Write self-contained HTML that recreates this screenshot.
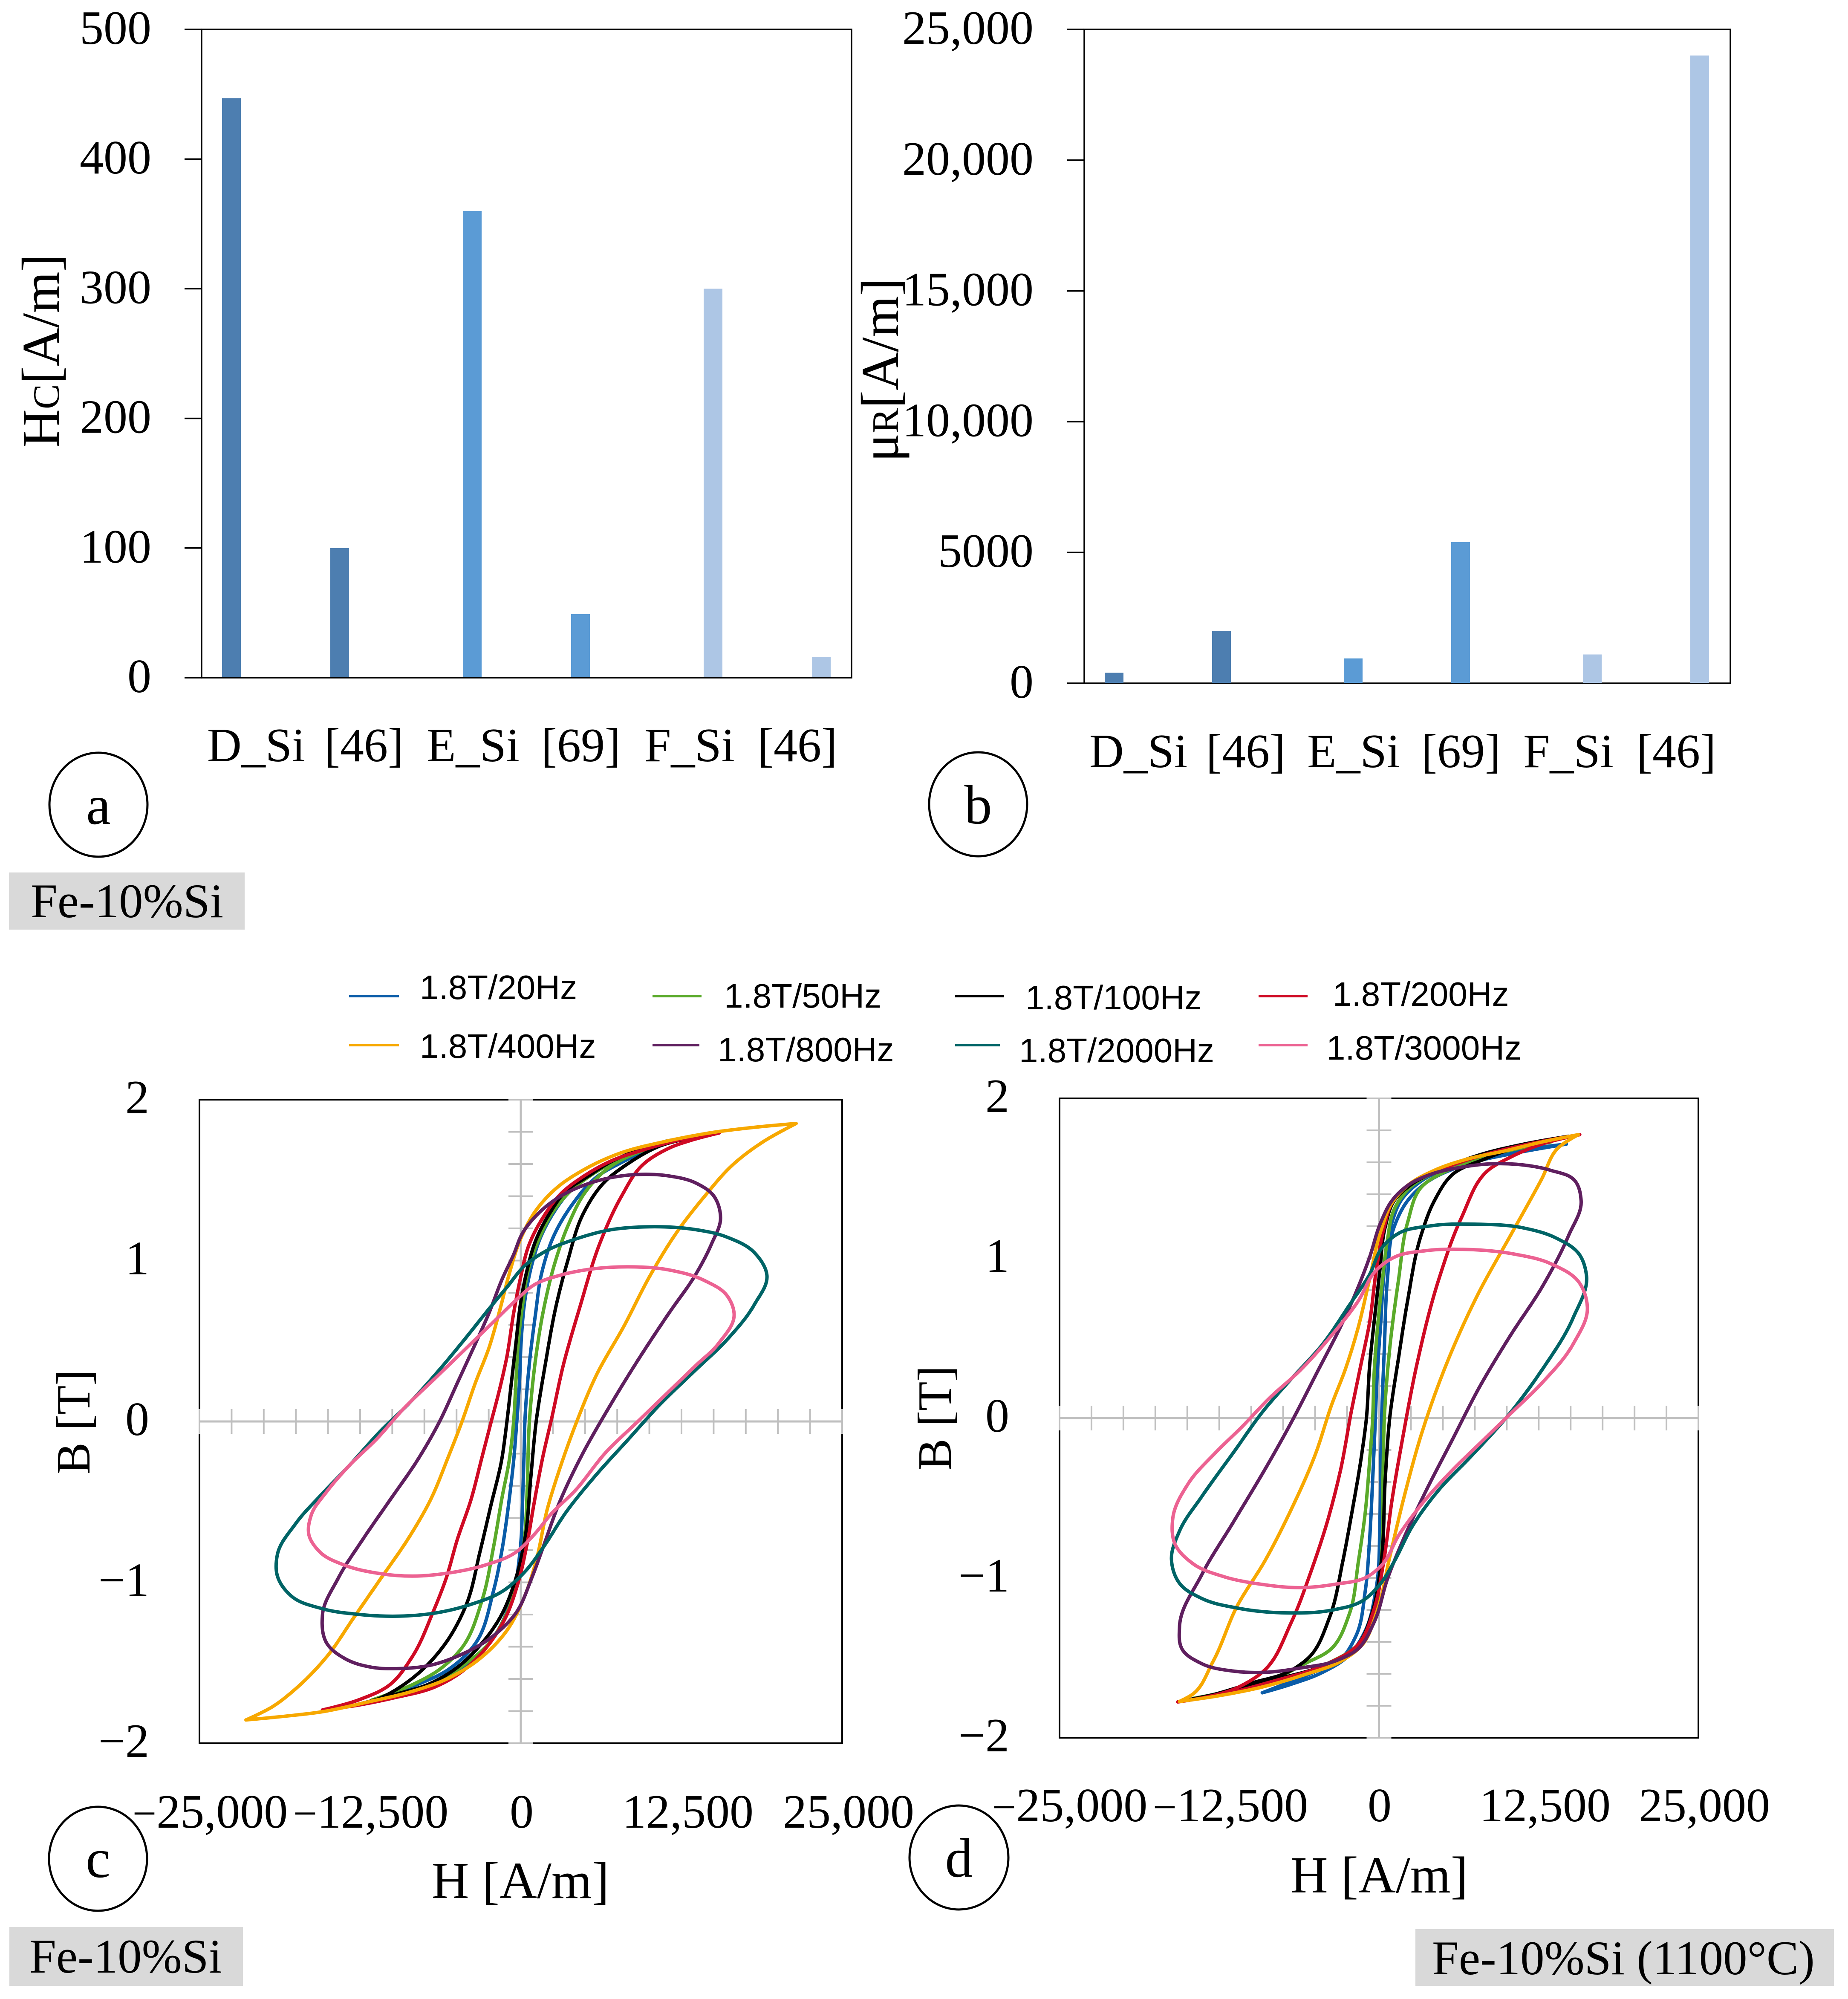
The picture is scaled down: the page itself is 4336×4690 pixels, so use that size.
<!DOCTYPE html>
<html lang="en">
<head>
<meta charset="utf-8">
<title>Fe-10%Si magnetic properties</title>
<style>
html,body{margin:0;padding:0;background:#fff}
svg{display:block}
text{font-family:"Liberation Serif","DejaVu Serif",serif;fill:#000;font-size:112px}
.leg{font-family:"Liberation Sans","DejaVu Sans",sans-serif;font-size:80px}
.ttl{font-size:125px}
.ttlh{font-size:122px}
.tag{font-size:113px}
</style>
</head>
<body>
<svg id="fig" xmlns="http://www.w3.org/2000/svg" width="4336" height="4690" viewBox="0 0 4336 4690">
<rect x="0" y="0" width="4336" height="4690" fill="#fff"/>

<g id="panelA"></g>
<g id="panelB"></g>
<g id="panelC"></g>
<g id="panelD"></g>

<text class="ttl" transform="translate(138 823) rotate(-90)" text-anchor="middle">H<tspan style="font-size:88px">C</tspan>[A/m]</text>
<text class="ttl" transform="translate(2107 868) rotate(-90)" text-anchor="middle">μ<tspan style="font-size:88px">R</tspan>[A/m]</text>
<text transform="translate(210 3336) rotate(-90)" text-anchor="middle">B [T]</text>
<text transform="translate(2231 3327) rotate(-90)" text-anchor="middle">B [T]</text>
<text class="ttlh" x="1221" y="4453" text-anchor="middle">H [A/m]</text>
<text class="ttlh" x="3236" y="4440" text-anchor="middle">H [A/m]</text>

<g text-anchor="middle">
<text x="493" y="4288"><tspan style="font-size:100px">−</tspan>25,000</text>
<text x="870" y="4288"><tspan style="font-size:100px">−</tspan>12,500</text>
<text x="1224" y="4288">0</text>
<text x="1614" y="4288">12,500</text>
<text x="1991" y="4288">25,000</text>
</g>
<g text-anchor="middle">
<text x="2510" y="4273"><tspan style="font-size:100px">−</tspan>25,000</text>
<text x="2887" y="4273"><tspan style="font-size:100px">−</tspan>12,500</text>
<text x="3237" y="4273">0</text>
<text x="3625" y="4273">12,500</text>
<text x="3999" y="4273">25,000</text>
</g>

<g><ellipse cx="231" cy="1888" rx="115" ry="122" fill="#fff" stroke="#000" stroke-width="5"/><text x="231" y="1933" text-anchor="middle" style="font-size:130px">a</text></g>
<g><ellipse cx="2295" cy="1887" rx="115" ry="122" fill="#fff" stroke="#000" stroke-width="5"/><text x="2295" y="1932" text-anchor="middle" style="font-size:130px">b</text></g>
<g><ellipse cx="230" cy="4361" rx="115" ry="122" fill="#fff" stroke="#000" stroke-width="5"/><text x="230" y="4404" text-anchor="middle" style="font-size:130px">c</text></g>
<g><ellipse cx="2250" cy="4358" rx="116" ry="122" fill="#fff" stroke="#000" stroke-width="5"/><text x="2250" y="4403" text-anchor="middle" style="font-size:130px">d</text></g>

<g><rect x="21" y="2047" width="553" height="134" fill="#d9d9d9"/><text class="tag" x="72" y="2152">Fe-10%Si</text></g>
<g><rect x="22" y="4521" width="548" height="138" fill="#d9d9d9"/><text class="tag" x="69" y="4628">Fe-10%Si</text></g>
<g><rect x="3321" y="4526" width="982" height="133" fill="#d9d9d9"/><text class="tag" x="3360" y="4632">Fe-10%Si (1100°C)</text></g>

<g>
<g><rect x="819" y="2334" width="117" height="6" fill="#0a5ca8"/><text class="leg" x="985" y="2344">1.8T/20Hz</text></g>
<g><rect x="1531" y="2334" width="115" height="6" fill="#5aaa2a"/><text class="leg" x="1699" y="2364">1.8T/50Hz</text></g>
<g><rect x="2241" y="2334" width="115" height="6" fill="#000"/><text class="leg" x="2406" y="2368">1.8T/100Hz</text></g>
<g><rect x="2953" y="2334" width="115" height="6" fill="#cf0a24"/><text class="leg" x="3127" y="2360">1.8T/200Hz</text></g>
<g><rect x="819" y="2449" width="117" height="6" fill="#f7a800"/><text class="leg" x="985" y="2482">1.8T/400Hz</text></g>
<g><rect x="1531" y="2449" width="110" height="6" fill="#5f1f5f"/><text class="leg" x="1684" y="2490">1.8T/800Hz</text></g>
<g><rect x="2241" y="2449" width="105" height="6" fill="#006466"/><text class="leg" x="2391" y="2492">1.8T/2000Hz</text></g>
<g><rect x="2953" y="2449" width="115" height="6" fill="#ec6292"/><text class="leg" x="3112" y="2486">1.8T/3000Hz</text></g>
</g>
</svg>

<script>
const barCategories=['D_Si','[46]','E_Si','[69]','F_Si','[46]'];
const hcValues=[447,100,360,49,300,16];
const murValues=[400,2000,950,5400,1100,24000];
const hcTickValues=[0,100,200,300,400,500];
const hcTickLabels=['0','100','200','300','400','500'];
const murTickValues=[0,5000,10000,15000,20000,25000];
const murTickLabels=['0','5000','10,000','15,000','20,000','25,000'];
const bTickValues=[-2,-1,0,1,2];
const bTickLabels=['−2','−1','0','1','2'];

const cH20=[11165,9065,6965,5215,3640,2415,1540,840,315,35,-105,-315,-560,-910,-1435,-2135,-3535,-5635,-8085,-10885,-8085,-5635,-3535,-1785,-560,-35,140,245,315,650,1150,1600,2590,3990,5740,8015];
const cB20=[1.725,1.671,1.604,1.523,1.415,1.280,1.145,0.969,0.753,0.510,0.240,-0.003,-0.246,-0.489,-0.786,-1.056,-1.380,-1.542,-1.636,-1.717,-1.663,-1.590,-1.474,-1.299,-1.056,-0.786,-0.489,-0.219,-0.003,0.348,0.672,0.915,1.158,1.347,1.509,1.617];
const cH50=[11865,9765,7665,5565,3815,2415,1540,665,140,-210,-385,-560,-910,-1435,-2135,-3010,-4585,-6335,-8435,-11585,-8785,-6335,-4235,-2485,-1085,-210,315,490,665,1085,1715,2590,3640,5040,6615,9065];
const cB50=[1.739,1.704,1.631,1.536,1.428,1.293,1.158,0.969,0.726,0.483,0.240,-0.003,-0.246,-0.462,-0.786,-1.110,-1.407,-1.542,-1.636,-1.731,-1.677,-1.609,-1.501,-1.380,-1.191,-0.975,-0.705,-0.435,-0.003,0.348,0.672,0.969,1.212,1.428,1.563,1.671];
const cH100=[13965,11165,9065,6965,5215,3465,2240,1190,490,-35,-385,-735,-1085,-1505,-2310,-3185,-4235,-5985,-8435,-11585,-13335,-9835,-7035,-4935,-3185,-1610,-385,315,770,1190,1890,2765,3640,4865,6440,8365,10815];
const cB100=[1.774,1.739,1.685,1.612,1.523,1.428,1.293,1.131,0.942,0.726,0.483,0.240,-0.003,-0.246,-0.516,-0.813,-1.137,-1.393,-1.596,-1.739,-1.771,-1.698,-1.628,-1.528,-1.393,-1.218,-0.975,-0.732,-0.354,-0.003,0.348,0.726,0.996,1.293,1.482,1.604,1.712];
const cH200=[15435,12215,9415,6965,4865,3115,1715,665,-35,-560,-1085,-1610,-2310,-3010,-3885,-4935,-5810,-6860,-8435,-10185,-12635,-15435,-12635,-9835,-6685,-4585,-2835,-1260,-210,490,1015,1715,2415,3300,4550,6265,7840,9415,11515,13440];
const cB200=[1.793,1.747,1.685,1.617,1.523,1.415,1.266,1.104,0.888,0.672,0.402,0.213,-0.003,-0.219,-0.489,-0.732,-0.975,-1.191,-1.461,-1.636,-1.731,-1.793,-1.763,-1.717,-1.650,-1.555,-1.420,-1.231,-1.002,-0.759,-0.516,-0.219,0.024,0.348,0.699,1.131,1.401,1.590,1.698,1.752];
const cH400=[21420,18165,14665,11165,7665,4865,2765,1015,-35,-910,-1610,-2485,-3535,-4585,-5635,-7035,-8785,-10885,-12985,-15085,-17535,-19285,-21385,-18235,-15435,-11935,-8435,-5635,-3185,-1085,315,1190,2065,3115,4340,5915,8015,10115,12215,14315,16415,18865];
const cB400=[1.852,1.828,1.793,1.739,1.666,1.563,1.450,1.293,1.131,0.915,0.699,0.456,0.240,-0.003,-0.219,-0.489,-0.732,-0.975,-1.218,-1.461,-1.663,-1.771,-1.855,-1.831,-1.804,-1.744,-1.677,-1.596,-1.474,-1.299,-1.083,-0.867,-0.543,-0.273,-0.003,0.294,0.591,0.915,1.185,1.401,1.590,1.739];
const cH800=[15540,15015,13615,11515,9415,7315,5215,3115,1365,140,-560,-1435,-2485,-3535,-4935,-6335,-8085,-10185,-12285,-14210,-15435,-15085,-13685,-11585,-9485,-7035,-4585,-2485,-385,840,1715,2940,4865,6790,9065,11515,13615,14840];
const cB800=[1.266,1.401,1.482,1.526,1.536,1.520,1.477,1.401,1.293,1.172,1.037,0.888,0.672,0.483,0.240,-0.003,-0.246,-0.489,-0.732,-0.975,-1.204,-1.380,-1.474,-1.528,-1.536,-1.515,-1.447,-1.353,-1.191,-0.975,-0.786,-0.516,-0.192,0.078,0.375,0.672,0.915,1.104];
const cH2000=[19145,18165,16065,13265,10115,6965,4165,2065,315,-1085,-2485,-4235,-6335,-8785,-10885,-13335,-15435,-17535,-18935,-18935,-17885,-15435,-12635,-9485,-6685,-3885,-1435,315,1715,3465,5915,8365,10815,13615,16065,18165];
const cB2000=[0.910,1.050,1.145,1.196,1.210,1.191,1.131,1.064,0.969,0.834,0.699,0.524,0.321,0.105,-0.057,-0.273,-0.448,-0.637,-0.826,-0.961,-1.083,-1.164,-1.199,-1.210,-1.191,-1.137,-1.056,-0.934,-0.786,-0.570,-0.327,-0.111,0.105,0.321,0.510,0.726];
const cH3000=[16590,16065,14315,11515,8365,5565,3115,1015,-385,-2135,-4235,-6685,-9135,-11235,-13335,-15085,-16310,-16485,-15610,-13685,-11235,-8435,-5635,-2835,-385,1015,2415,4165,6615,9065,11515,13615,15365];
const cB3000=[0.672,0.780,0.875,0.942,0.961,0.948,0.910,0.848,0.753,0.618,0.456,0.267,0.078,-0.111,-0.273,-0.435,-0.583,-0.705,-0.813,-0.894,-0.942,-0.961,-0.942,-0.894,-0.813,-0.705,-0.570,-0.435,-0.192,-0.003,0.186,0.348,0.483];

const dH20=[14665,11690,8190,5390,3290,1715,1015,420,140,-140,-280,-490,-735,-1085,-1785,-3010,-5110,-7210,-9135,-6860,-4410,-2310,-1085,-210,70,140,210,420,665,1190,2240,3640,6440,9940];
const dB20=[1.714,1.673,1.618,1.564,1.482,1.360,1.224,0.925,0.598,0.272,0,-0.381,-0.762,-1.088,-1.360,-1.510,-1.591,-1.659,-1.719,-1.665,-1.591,-1.482,-1.333,-1.061,-0.653,-0.272,0,0.435,0.870,1.197,1.360,1.469,1.578,1.659];
const dH50=[13440,9940,6790,4340,2240,1190,665,245,-140,-385,-490,-735,-1085,-1610,-2310,-3710,-5810,-8610,-11760,-14560,-11060,-7560,-4060,-1610,-385,140,315,420,840,1540,2240,3290,5390,8190];
const dB50=[1.727,1.673,1.605,1.537,1.428,1.306,1.115,0.843,0.544,0.272,0,-0.272,-0.598,-0.898,-1.224,-1.442,-1.537,-1.646,-1.714,-1.754,-1.700,-1.632,-1.537,-1.414,-1.224,-0.925,-0.381,0,0.435,0.870,1.224,1.442,1.550,1.632];
const dH100=[14840,11340,7840,4690,2415,1190,490,70,-385,-735,-980,-1435,-2135,-2835,-3885,-5460,-6860,-10010,-12810,-15260,-11760,-7910,-4410,-1610,-560,140,490,840,1540,2240,3290,4340,5740,8190,11690];
const dB100=[1.763,1.714,1.646,1.550,1.455,1.360,1.197,0.925,0.598,0.326,0,-0.272,-0.598,-0.898,-1.251,-1.496,-1.578,-1.659,-1.727,-1.768,-1.714,-1.632,-1.550,-1.414,-1.224,-0.925,-0.381,0,0.381,0.734,1.142,1.360,1.523,1.618,1.714];
const dH200=[15715,11690,8190,4690,2240,1015,420,-210,-735,-1435,-2135,-3010,-4060,-5285,-6860,-8960,-11060,-15750,-12110,-8260,-4410,-1610,-385,315,1015,1890,2940,4690,6440,8540,10290,12740];
const dB200=[1.773,1.714,1.646,1.550,1.455,1.346,1.197,0.925,0.598,0.326,0.054,-0.326,-0.653,-0.952,-1.278,-1.578,-1.686,-1.776,-1.727,-1.646,-1.550,-1.414,-1.197,-0.925,-0.517,-0.109,0.326,0.870,1.251,1.550,1.632,1.714];
const dH400=[15610,12740,9940,6790,4340,2240,1015,140,-735,-1610,-2660,-3710,-4935,-6860,-8960,-11060,-12985,-14560,-15610,-12810,-9310,-5810,-3010,-1260,-210,840,1890,3290,5500,7840,10290,12740,13965];
const dB400=[1.773,1.727,1.673,1.618,1.550,1.455,1.346,1.170,0.870,0.571,0.299,0.082,-0.218,-0.571,-0.898,-1.170,-1.523,-1.727,-1.773,-1.741,-1.686,-1.605,-1.523,-1.414,-1.224,-0.870,-0.517,-0.109,0.381,0.789,1.142,1.496,1.686];
const dH800=[15820,15365,13440,11340,8890,6440,3990,2240,1015,140,-735,-1785,-3010,-4760,-6860,-8960,-11410,-13860,-15610,-15435,-13860,-11410,-8960,-6160,-3360,-1610,-385,665,1890,3640,5740,7840,10290,12740,14840];
const dB800=[1.360,1.482,1.550,1.583,1.591,1.569,1.523,1.455,1.360,1.224,1.006,0.789,0.571,0.299,-0.027,-0.326,-0.653,-0.979,-1.306,-1.442,-1.537,-1.583,-1.591,-1.564,-1.518,-1.442,-1.278,-1.006,-0.762,-0.462,-0.136,0.190,0.517,0.816,1.142];
const dH2000=[16240,15715,13790,11340,7490,3990,1540,315,-735,-2310,-4410,-6860,-8960,-11410,-13860,-15610,-16240,-15610,-13860,-11060,-7210,-3710,-1260,140,1190,2590,4690,7140,9940,12740,15190];
const dB2000=[0.892,1.020,1.129,1.189,1.213,1.202,1.156,1.074,0.898,0.707,0.462,0.245,0.054,-0.218,-0.490,-0.707,-0.884,-1.034,-1.129,-1.189,-1.219,-1.202,-1.142,-1.034,-0.898,-0.680,-0.449,-0.245,0,0.299,0.626];
const dH3000=[16310,15715,13440,10640,6790,3640,1190,-210,-1610,-3710,-6160,-8610,-10710,-12810,-14910,-16135,-15960,-14560,-12110,-9310,-6160,-3360,-910,315,1540,3290,5740,8190,10290,12740,15190];
const dB3000=[0.694,0.843,0.966,1.025,1.055,1.047,1.006,0.925,0.734,0.517,0.299,0.122,-0.054,-0.218,-0.408,-0.626,-0.789,-0.911,-0.993,-1.039,-1.061,-1.039,-0.993,-0.911,-0.734,-0.544,-0.326,-0.136,0.027,0.218,0.462];

const seriesNames=['20hz','50hz','100hz','200hz','400hz','800hz','2000hz','3000hz'];
const seriesColors=['#0a5ca8','#5aaa2a','#000000','#cf0a24','#f7a800','#5f1f5f','#006466','#ec6292'];
const panelCH=[cH20,cH50,cH100,cH200,cH400,cH800,cH2000,cH3000];
const panelCB=[cB20,cB50,cB100,cB200,cB400,cB800,cB2000,cB3000];
const panelDH=[dH20,dH50,dH100,dH200,dH400,dH800,dH2000,dH3000];
const panelDB=[dB20,dB50,dB100,dB200,dB400,dB800,dB2000,dB3000];

const NS='http://www.w3.org/2000/svg';
function mk(parent,tag,attrs){
  const el=document.createElementNS(NS,tag);
  for(const k in attrs){el.setAttribute(k,attrs[k]);}
  parent.appendChild(el);
  return el;
}
function linear(d0,d1,r0,r1){return v=>r0+(v-d0)*(r1-r0)/(d1-d0);}

function drawBarPanel(g,box,values,maxV,tickValues,tickLabels,pairGap,groupGap,catCenters,catBaseline,labelRight,keyPrefix){
  const y=linear(0,maxV,box.bottom,box.top);
  const frame=mk(g,'rect',{x:box.left,y:box.top,width:box.right-box.left,height:box.bottom-box.top,fill:'none',stroke:'#000','stroke-width':3.5});
  
  
  tickValues.forEach((v,i)=>{
    const t=mk(g,'line',{x1:box.left-40,x2:box.left,y1:y(v),y2:y(v),stroke:'#000','stroke-width':3.5});
    
    
    const l=mk(g,'text',{x:labelRight,y:y(v)+34,'text-anchor':'end'});
    
    
    l.textContent=tickLabels[i];
  });
  const colors=['#4d7eb0','#5b9bd5','#adc6e5'];
  values.forEach((v,i)=>{
    const group=Math.floor(i/2);
    const cx=box.left+70+pairGap*(i%2)+groupGap*group;
    const b=mk(g,'rect',{x:cx-22,y:y(v),width:44,height:box.bottom-y(v)-1,fill:colors[group]});
    
    
    const c=mk(g,'text',{x:catCenters(i),y:catBaseline,'text-anchor':'middle'});
    
    
    c.textContent=barCategories[i];
  });
}

function loopPath(hs,bs,x,y){
  const n=hs.length;
  const p=hs.map((h,i)=>[x(h),y(bs[i])]);
  const dir=p.map((pt,i)=>{
    const a=p[(i-1+n)%n],b=p[(i+1)%n];
    const ix=pt[0]-a[0],iy=pt[1]-a[1],ox=b[0]-pt[0],oy=b[1]-pt[1];
    if(ix*ox+iy*oy<=0){return [0,0];}
    const il=Math.hypot(ix,iy)||1,ol=Math.hypot(ox,oy)||1;
    const tx=ix/il*ol+ox/ol*il,ty=iy/il*ol+oy/ol*il;
    const tl=Math.hypot(tx,ty)||1;
    return [tx/tl,ty/tl];
  });
  let d='M'+p[0][0].toFixed(1)+' '+p[0][1].toFixed(1);
  for(let i=0;i<n;i++){
    const j=(i+1)%n;
    const len=Math.hypot(p[j][0]-p[i][0],p[j][1]-p[i][1])/3;
    d+='C'+(p[i][0]+dir[i][0]*len).toFixed(1)+' '+(p[i][1]+dir[i][1]*len).toFixed(1)+' '+
      (p[j][0]-dir[j][0]*len).toFixed(1)+' '+(p[j][1]-dir[j][1]*len).toFixed(1)+' '+
      p[j][0].toFixed(1)+' '+p[j][1].toFixed(1);
  }
  return d+'Z';
}

function drawLoopPanel(g,box,allH,allB,labelRight,keyPrefix){
  const x=linear(-25000,25000,box.left,box.right);
  const y=linear(-2,2,box.bottom,box.top);
  const frame=mk(g,'rect',{x:box.left,y:box.top,width:box.right-box.left,height:box.bottom-box.top,fill:'none',stroke:'#000','stroke-width':4});
  
  
  const hAxis=mk(g,'line',{x1:box.left,x2:box.right,y1:y(0),y2:y(0),stroke:'#bfbfbf','stroke-width':5});
  
  
  const vAxis=mk(g,'line',{x1:x(0),x2:x(0),y1:box.top,y2:box.bottom,stroke:'#bfbfbf','stroke-width':5});
  
  
  for(let k=-10;k<=10;k++){
    const tx=mk(g,'line',{x1:x(k*2500),x2:x(k*2500),y1:y(0)-29,y2:y(0)+29,stroke:'#bfbfbf','stroke-width':4});
    
    
    const ty=mk(g,'line',{x1:x(0)-29,x2:x(0)+29,y1:y(k*0.2),y2:y(k*0.2),stroke:'#bfbfbf','stroke-width':4});
    
    
  }
  bTickValues.forEach((v,i)=>{
    const l=mk(g,'text',{x:labelRight,y:y(v)+32,'text-anchor':'end'});
    
    
    l.textContent=bTickLabels[i];
  });
  seriesNames.forEach((name,i)=>{
    const p=mk(g,'path',{d:loopPath(allH[i],allB[i],x,y),fill:'none',stroke:seriesColors[i],'stroke-width':8,'stroke-linejoin':'round','stroke-linecap':'round'});
    
    
  });
}

const centersA=i=>[601,854,1110,1363,1618,1871][i];
const centersB=i=>[2671,2923,3176,3428,3680,3933][i];
drawBarPanel(document.getElementById('panelA'),{left:473,right:1998,top:69,bottom:1590},hcValues,500,hcTickValues,hcTickLabels,254,565,centersA,1786,355,'hc');
drawBarPanel(document.getElementById('panelB'),{left:2544,right:4060,top:69,bottom:1603},murValues,25000,murTickValues,murTickLabels,252,561,centersB,1800,2425,'mur');
drawLoopPanel(document.getElementById('panelC'),{left:468,right:1976,top:2580,bottom:4090},panelCH,panelCB,350,'c');
drawLoopPanel(document.getElementById('panelD'),{left:2486,right:3985,top:2577,bottom:4077},panelDH,panelDB,2368,'d');
</script>
</body>
</html>
